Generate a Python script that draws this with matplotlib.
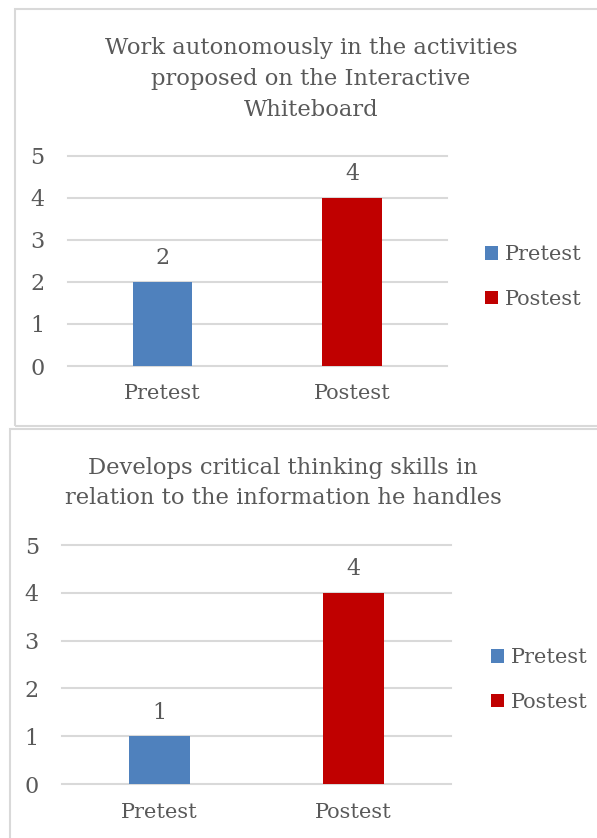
import matplotlib
matplotlib.use("Agg")
import matplotlib.pyplot as plt
from matplotlib.patches import Rectangle, Patch

categories = ["Pretest", "Postest"]
values_top = [2, 4]
values_bottom = [1, 4]
title_top = "Work autonomously in the activities\nproposed on the Interactive\nWhiteboard"
title_bottom = "Develops critical thinking skills in\nrelation to the information he handles"
yticks = [0, 1, 2, 3, 4, 5]
colors = ["#4F81BD", "#C00000"]
text_color = "#595959"
grid_color = "#D9D9D9"

W, H = 597, 838
DPI = 100
plt.rcParams['font.family'] = ['DejaVu Serif']
fig = plt.figure(figsize=(W / DPI, H / DPI), dpi=DPI)

def fx(px):
    return px / W

def fy(py):
    return 1 - py / H

# panel borders
fig.patches.append(Rectangle((fx(15), fy(426)), fx(W + 20 - 15), (426 - 9) / H,
                             transform=fig.transFigure, fill=False,
                             edgecolor=grid_color, linewidth=1.5))
fig.patches.append(Rectangle((fx(9.5), fy(H + 20)), fx(W + 20 - 9.5), (H + 20 - 429.5) / H,
                             transform=fig.transFigure, fill=False,
                             edgecolor=grid_color, linewidth=1.5))

FS = 15

def make_panel(left, right, bottom, top, values, title, title_y, title_x, legend_x, legend_y, labelpad_y):
    ax = fig.add_axes([fx(left), fy(bottom), fx(right - left), (bottom - top) / H])
    x = list(range(len(categories)))
    bars = ax.bar(x, values, width=0.315, color=colors, zorder=3)
    ax.set_xlim(-0.5, 1.5)
    ax.set_ylim(0, 5)
    ax.set_yticks(yticks)
    ax.set_xticks(x)
    ax.set_xticklabels(categories)
    ax.tick_params(axis='both', length=0, labelsize=FS, labelcolor=text_color)
    ax.tick_params(axis='y', pad=17, labelsize=16)
    ax.tick_params(axis='x', pad=labelpad_y)
    for s in ax.spines.values():
        s.set_visible(False)
    ax.yaxis.grid(True, color=grid_color, linewidth=1.5, zorder=0)
    for gl in ax.get_ygridlines():
        gl.set_clip_on(False)
    ax.set_axisbelow(True)
    ax.bar_label(bars, labels=[str(v) for v in values], padding=9,
                 fontsize=16, color=text_color)
    fig.text(fx(title_x), fy(title_y), title, ha='center', va='center',
             fontsize=16.3, color=text_color, linespacing=1.52)
    handles = [Patch(facecolor=c, edgecolor='none') for c in colors]
    fig.legend(handles, categories, loc='center left',
               bbox_to_anchor=(fx(legend_x), fy(legend_y)), frameon=False,
               fontsize=FS, labelcolor=text_color, handlelength=0.6,
               handleheight=0.6, handletextpad=0.35, labelspacing=1.22,
               borderaxespad=0, borderpad=0)
    return ax

make_panel(68, 446.6, 366, 155.7, values_top, title_top, 79, 311, 485, 277, 13)
make_panel(62.4, 450.8, 784, 545, values_bottom, title_bottom, 483, 283, 491, 680, 14)

fig.savefig("out.png", dpi=DPI)
